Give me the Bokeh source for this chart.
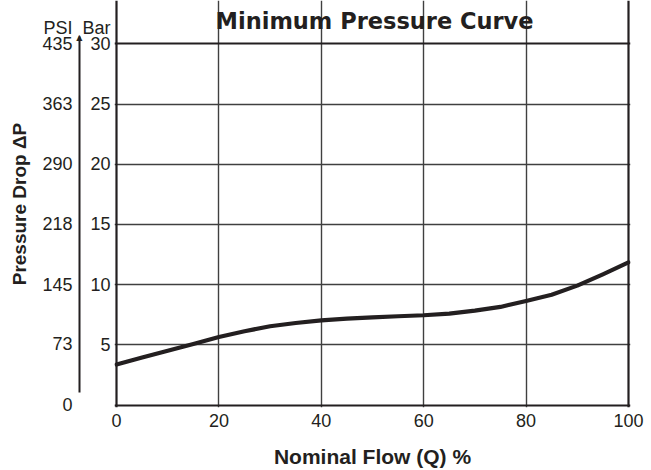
from bokeh.plotting import figure
from bokeh.models import Range1d, LinearAxis, FixedTicker, Grid
from bokeh.core.properties import value
from bokeh.embed import file_html
from bokeh.resources import INLINE

# ---- data ----
flow_pct = [0, 5, 10, 15, 20, 25, 30, 35, 40, 45, 50, 55, 60, 65, 70, 75, 80, 85, 90, 95, 100]
pressure_bar = [3.37, 3.95, 4.51, 5.08, 5.66, 6.13, 6.55, 6.82, 7.04, 7.18, 7.29, 7.38, 7.46,
                7.6, 7.85, 8.15, 8.65, 9.17, 9.92, 10.86, 11.85]
x_ticks = [0, 20, 40, 60, 80, 100]
bar_ticks = [5, 10, 15, 20, 25, 30]
psi_ticks = [0, 73, 145, 218, 290, 363, 435]
BAR_TO_PSI = 14.5
title_text = "Minimum Pressure Curve"
unit_row = 31.28          # bar level of the "PSI  Bar" header row
title_row = 31.92         # bar level of the title middle
arrow_bar = (1.04, 30.55)  # extent of the pressure arrow, in bar

INK = "#231f20"
FONT = "Liberation Sans"

y_lo, y_hi = -0.2, 33.6
p = figure(width=651, height=470, output_backend="svg", toolbar_location=None,
           x_range=Range1d(-0.4, 100.4), y_range=Range1d(y_lo, y_hi),
           min_border_left=114, min_border_right=21, min_border_top=0, min_border_bottom=62)
p.outline_line_color = None
p.background_fill_color = "white"
p.border_fill_color = "white"

# x axis
xa = p.xaxis[0]
xa.ticker = FixedTicker(ticks=x_ticks)
xa.axis_line_color = None
xa.major_tick_line_color = None
xa.minor_tick_line_color = None
xa.major_tick_out = 0
xa.major_label_standoff = 6
xa.major_label_text_font = FONT
xa.major_label_text_font_size = "18px"
xa.major_label_text_color = INK
xa.axis_label = "Nominal Flow (Q) %"
xa.axis_label_text_font = FONT
xa.axis_label_text_font_size = "21px"
xa.axis_label_text_font_style = "bold"
xa.axis_label_text_color = INK
xa.axis_label_standoff = 15

# bar axis (closest to the frame)
ya = p.yaxis[0]
ya.ticker = FixedTicker(ticks=bar_ticks + [unit_row])
ya.major_label_overrides = {unit_row: "Bar"}
ya.axis_line_color = None
ya.major_tick_line_color = None
ya.minor_tick_line_color = None
ya.major_tick_out = 0
ya.major_label_standoff = 4
ya.major_label_text_font = FONT
ya.major_label_text_font_size = "18px"
ya.major_label_text_color = INK

p.extra_y_ranges = {"psi": Range1d(y_lo * BAR_TO_PSI, y_hi * BAR_TO_PSI)}

# arrow axis (line = arrow shaft, label = arrow head)
head_psi = arrow_bar[1] * BAR_TO_PSI
aa = LinearAxis(y_range_name="psi", ticker=FixedTicker(ticks=[head_psi]),
                bounds=(arrow_bar[0] * BAR_TO_PSI, head_psi + 0.3))
aa.major_label_overrides = {head_psi: "▲"}
aa.axis_line_color = INK
aa.axis_line_width = 2
aa.major_tick_line_color = None
aa.minor_tick_line_color = None
aa.major_tick_out = 0
aa.major_label_standoff = -3
aa.major_label_text_font = "DejaVu Sans"
aa.major_label_text_font_size = "8px"
aa.major_label_text_color = INK
p.add_layout(aa, "left")

# psi axis
unit_psi = unit_row * BAR_TO_PSI
pa = LinearAxis(y_range_name="psi", ticker=FixedTicker(ticks=psi_ticks + [unit_psi]))
pa.major_label_overrides = {unit_psi: "PSI"}
pa.axis_line_color = None
pa.major_tick_line_color = None
pa.minor_tick_line_color = None
pa.major_tick_out = 0
pa.major_label_standoff = 1
pa.major_label_text_font = FONT
pa.major_label_text_font_size = "18px"
pa.major_label_text_color = INK
pa.axis_label = "Pressure Drop ΔP"
pa.axis_label_text_font = FONT
pa.axis_label_text_font_size = "19px"
pa.axis_label_text_font_style = "bold"
pa.axis_label_text_color = INK
pa.axis_label_standoff = 9
p.add_layout(pa, "left")

# inner grid
p.xgrid.ticker = FixedTicker(ticks=x_ticks[1:-1])
p.xgrid.bounds = (0, bar_ticks[-1])
p.ygrid.ticker = FixedTicker(ticks=bar_ticks[:-1])
p.ygrid.bounds = (x_ticks[0], x_ticks[-1])
for g in (p.xgrid[0], p.ygrid[0]):
    g.grid_line_color = "#404040"
    g.grid_line_width = 1.4

# chart box
box_v = Grid(dimension=0, ticker=FixedTicker(ticks=[x_ticks[0], x_ticks[-1]]),
             bounds=(-0.09, bar_ticks[-1] + 0.09), grid_line_color=INK, grid_line_width=2.2)
box_h = Grid(dimension=1, ticker=FixedTicker(ticks=[0, bar_ticks[-1]]),
             bounds=(x_ticks[0] - 0.2, x_ticks[-1] + 0.2), grid_line_color=INK, grid_line_width=2.2)
p.add_layout(box_v)
p.add_layout(box_h)

# curve
p.line(flow_pct, pressure_bar, line_color=INK, line_width=4.2, line_join="round", line_cap="round")

# title
p.text(x=[(x_ticks[0] + x_ticks[-1]) / 2 + 0.4], y=[title_row], text=[title_text],
       text_align="center", text_baseline="middle", text_font=value("DejaVu Sans"),
       text_font_size="22.5px", text_font_style="bold", text_color=INK)

open("out.html", "w").write(file_html(p, INLINE))
